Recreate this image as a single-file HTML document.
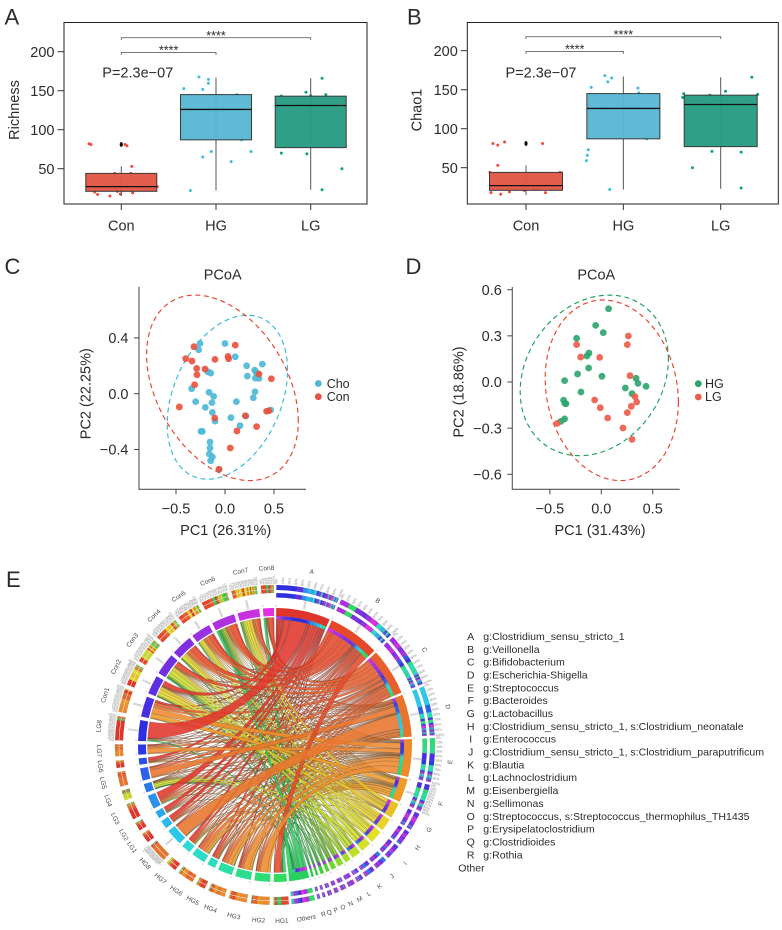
<!DOCTYPE html>
<html lang="en">
<head>
<meta charset="utf-8">
<title>Microbiome diversity figure</title>
<style>
html,body{margin:0;padding:0;background:#fff;}
svg{display:block;font-family:"Liberation Sans",Arial,sans-serif;}
text{fill:#2b2b2b;}
</style>
</head>
<body>
<svg id="fig" width="782" height="930" viewBox="0 0 782 930" xmlns="http://www.w3.org/2000/svg">
  <rect width="782" height="930" fill="#fff"/>

  <g id="panelA"></g>
  <g id="panelB"></g>
  <g id="panelC"></g>
  <g id="panelD"></g>
  <g id="panelE"></g>

  <g font-size="22" style="font-weight:400">
    <text x="4.5" y="24.7" fill="#111">A</text>
    <text x="407" y="24.7" fill="#111">B</text>
    <text x="4.5" y="274" fill="#111">C</text>
    <text x="405.5" y="274" fill="#111">D</text>
    <text x="6" y="587" fill="#111">E</text>
  </g>

  <g font-size="14.5">
    <text transform="translate(19,110) rotate(-90)" text-anchor="middle">Richness</text>
    <text transform="translate(421.7,110) rotate(-90)" text-anchor="middle">Chao1</text>
    <text x="102.3" y="77.7">P=2.3e−07</text>
    <text x="505.5" y="77.7">P=2.3e−07</text>
  </g>

  <g font-size="14.5">
    <text x="222.7" y="279.3" text-anchor="middle">PCoA</text>
    <text x="596.3" y="279.3" text-anchor="middle">PCoA</text>
    <text x="225.7" y="535" text-anchor="middle">PC1 (26.31%)</text>
    <text x="600" y="535" text-anchor="middle">PC1 (31.43%)</text>
    <text transform="translate(90.7,393.7) rotate(-90)" text-anchor="middle">PC2 (22.25%)</text>
    <text transform="translate(463.7,392) rotate(-90)" text-anchor="middle">PC2 (18.86%)</text>
  </g>

  <g font-size="12.5">
    <circle cx="318.3" cy="383.5" r="3.4" fill="#4db9d8"/>
    <text x="326.7" y="388">Cho</text>
    <circle cx="318.3" cy="396.7" r="3.4" fill="#e9533f"/>
    <text x="326.7" y="401">Con</text>
  </g>
  <g font-size="12.5">
    <circle cx="698.3" cy="383.7" r="3.4" fill="#2fa56e"/>
    <text x="705" y="388">HG</text>
    <circle cx="698.3" cy="397" r="3.4" fill="#ec5e4a"/>
    <text x="705" y="401">LG</text>
  </g>

  <g font-size="10.55" id="taxaLegend">
    <g text-anchor="middle">
      <text x="470.7" y="640">A</text>
      <text x="470.7" y="652.8">B</text>
      <text x="470.7" y="665.7">C</text>
      <text x="470.7" y="678.5">D</text>
      <text x="470.7" y="691.4">E</text>
      <text x="470.7" y="704.2">F</text>
      <text x="470.7" y="717">G</text>
      <text x="470.7" y="729.9">H</text>
      <text x="470.7" y="742.7">I</text>
      <text x="470.7" y="755.6">J</text>
      <text x="470.7" y="768.4">K</text>
      <text x="470.7" y="781.2">L</text>
      <text x="470.7" y="794.1">M</text>
      <text x="470.7" y="806.9">N</text>
      <text x="470.7" y="819.8">O</text>
      <text x="470.7" y="832.6">P</text>
      <text x="470.7" y="845.4">Q</text>
      <text x="470.7" y="858.3">R</text>
    </g>
    <g>
      <text x="483.3" y="640">g:Clostridium_sensu_stricto_1</text>
      <text x="483.3" y="652.8">g:Veillonella</text>
      <text x="483.3" y="665.7">g:Bifidobacterium</text>
      <text x="483.3" y="678.5">g:Escherichia-Shigella</text>
      <text x="483.3" y="691.4">g:Streptococcus</text>
      <text x="483.3" y="704.2">g:Bacteroides</text>
      <text x="483.3" y="717">g:Lactobacillus</text>
      <text x="483.3" y="729.9">g:Clostridium_sensu_stricto_1, s:Clostridium_neonatale</text>
      <text x="483.3" y="742.7">g:Enterococcus</text>
      <text x="483.3" y="755.6">g:Clostridium_sensu_stricto_1, s:Clostridium_paraputrificum</text>
      <text x="483.3" y="768.4">g:Blautia</text>
      <text x="483.3" y="781.2">g:Lachnoclostridium</text>
      <text x="483.3" y="794.1">g:Eisenbergiella</text>
      <text x="483.3" y="806.9">g:Sellimonas</text>
      <text x="483.3" y="819.8">g:Streptococcus, s:Streptococcus_thermophilus_TH1435</text>
      <text x="483.3" y="832.6">g:Erysipelatoclostridium</text>
      <text x="483.3" y="845.4">g:Clostridioides</text>
      <text x="483.3" y="858.3">g:Rothia</text>
      <text x="458.3" y="871.5">Other</text>
    </g>
  </g>
</svg>

<script>
/* ---------- Box plot data ---------- */
const boxCategories = ['Con', 'HG', 'LG'];
const boxTicks = [50, 100, 150, 200];
const richnessWhiskerLow = [15, 22, 23];
const richnessQ1 = [21, 87, 77];
const richnessMedian = [27, 126, 131];
const richnessQ3 = [44, 145, 143];
const richnessWhiskerHigh = [53, 167, 166];
const richnessOutliers = [81, null, null];
const chaoWhiskerLow = [15, 22, 23];
const chaoQ1 = [21, 87, 77];
const chaoMedian = [27, 126, 131];
const chaoQ3 = [44, 145, 143];
const chaoWhiskerHigh = [53, 167, 166];
const chaoOutliers = [81, null, null];
/* [jitter in category units, value] */
const richnessConPoints = [[-.34,82],[-.32,81],[.04,81],[.06,79.5],[.11,53],[-.07,44],[.10,44],[-.23,27],[.38,27],[-.28,20],[-.25,17],[-.04,21],[-.01,17.5],[-.12,15],[.12,19],[.34,23]];
const richnessHgPoints = [[-.34,152.6],[-.18,167.5],[-.08,164.5],[-.08,159.5],[-.14,151.7],[.22,145],[-.26,127],[.27,87],[-.05,72],[-.14,65],[.37,72],[.16,59],[-.27,22]];
const richnessLgPoints = [[.12,166],[-.05,148],[.16,145],[0,143.6],[-.31,143],[-.25,131],[-.12,132],[-.31,70],[-.04,69],[.33,50],[.12,23]];
const chaoConPoints = [[-.34,81],[-.29,79],[-.22,83],[.17,81],[-.29,53],[-.37,44],[.35,44],[-.03,26],[.2,27],[-.27,27],[-.17,19],[-.02,21],[.08,22],[.12,22],[-.36,18],[-.26,16],[.2,18]];
const chaoHgPoints = [[-.19,168],[-.12,165],[-.16,160],[-.33,153],[.15,152],[.16,146],[-.17,126],[.09,127],[.24,87],[-.36,73],[-.37,66],[-.38,59],[-.14,22]];
const chaoLgPoints = [[.32,166],[.05,148],[-.38,145],[-.39,140],[-.11,143],[.38,144],[.17,131],[.12,131],[-.09,71],[.21,70],[-.29,50],[.21,24]];
const sigFrom = [0, 0];
const sigTo = [1, 2];
const sigLevel = [199, 218];

/* ---------- PCoA data ---------- */
const pcoaTicksX = [-0.5, 0, 0.5];
const pcoaCTicksY = [-0.4, 0, 0.4];
const pcoaDTicksY = [-0.6, -0.3, 0, 0.3, 0.6];
const choPC = [[-.255,.36],[-.269,.315],[0,.36],[.105,.265],[.221,.2],[.381,.212],[.303,.169],[.316,.155],[.33,.141],[.228,.126],[.31,.112],[.347,.11],[-.177,.158],[-.146,.148],[-.34,.036],[-.163,.01],[-.116,-.019],[.306,.014],[.289,-.029],[-.299,-.057],[-.133,-.064],[.116,-.057],[-.201,-.098],[-.129,-.134],[-.102,-.196],[.061,-.172],[.214,-.16],[.153,-.229],[.466,-.117],[-.245,-.27],[-.231,-.27],[-.153,-.346],[-.153,-.389],[-.16,-.432],[-.129,-.453],[-.146,-.48],[-.061,-.542]];
const conPC = [[-.316,.337],[.105,.348],[-.401,.251],[-.337,.234],[-.102,.246],[.031,.267],[.037,.251],[-.289,.181],[-.204,.177],[-.286,.136],[.347,.141],[.473,.107],[-.31,.064],[-.466,-.095],[-.105,-.174],[.207,-.158],[.425,-.126],[.446,-.122],[.323,-.236],[.122,-.267],[.054,-.389],[-.061,-.542]];
const hgPC = [[.071,.476],[-.055,.368],[.019,.321],[-.24,.284],[-.12,.188],[-.14,.169],[-.123,.091],[-.231,.052],[.006,.037],[-.357,.009],[.338,.024],[.357,-.009],[.435,-.028],[.234,-.039],[.299,-.076],[-.198,-.065],[-.367,-.119],[-.354,-.139],[-.344,-.141],[-.357,-.24],[-.393,-.256]];
const lgPC = [[-.24,.243],[.263,.299],[.253,.243],[-.201,.162],[-.016,.16],[.279,.041],[.328,-.095],[.344,-.13],[.292,-.158],[.253,-.199],[-.065,-.117],[-.01,-.167],[.062,-.234],[.211,-.299],[.299,-.373],[-.429,-.269]];
/* ellipse: [centre x, centre y, half-extent x, half-extent y, correlation] */
const conEllipse = [-.026, .042, .774, .665, -.36];
const choEllipse = [.024, -.025, .614, .588, .33];
const hgEllipse = [-.068, .043, .721, .522, .2];
const lgEllipse = [.102, -.054, .648, .587, -.13];

/* ---------- Chord data ---------- */
const taxaNames = ['A','B','C','D','E','F','G','H','I','J','K','L','M','N','O','P','Q','R','Others'];
const sampleNames = ['HG1','HG2','HG3','HG4','HG5','HG6','HG7','HG8','LG1','LG2','LG3','LG4','LG5','LG6','LG7','LG8','Con1','Con2','Con3','Con4','Con5','Con6','Con7','Con8'];
const taxaTotals = [23,22,20,18,16,10,6.5,5.5,5.5,4.5,4,2.5,2.5,2,1.5,1.5,1,1,8.5];
const sampleTotals = [5.5,6.7,6.7,6.2,3.5,6,4,7,3.6,3.1,5.9,3.7,5.3,2.7,4.3,8.8,8.7,8,9.2,9,8.3,9.9,9.3,4.7];
/* rows: taxa; columns: samples */
const abundanceA = [2,1,3,1,4,1,5,2,8,7,10,1,2,5,1,45,4,14,4,3,5,4,3,3];
const abundanceB = [16,1,2,1,5,1,4,1,4,3,2,1,1,2,1,1,1,2,12,14,10,18,6,10];
const abundanceC = [2,5,3,4,3,5,1,3,1,1,1,1,6,1,2,1,6,1,3,8,10,8,9,2];
const abundanceD = [1,4,4,6,2,7,1,45,1,1,2,2,18,1,4,1,5,1,1,2,2,3,4,1];
const abundanceE = [1,18,14,9,1,4,1,1,1,1,1,1,2,1,10,2,14,1,1,1,2,1,2,1];
const abundanceF = [1,6,5,6,1,4,1,1,1,0,1,1,1,0,2,1,10,2,1,1,1,1,2,1];
const abundanceG = [0,0,0,1,0,0,0,0,0,0,0,1,0,1,0,0,1,8,3,4,2,1,8,0];
const abundanceH = [0,0,1,0,0,0,0,0,0,0,0,3,0,0,0,0,1,9,6,4,6,0,8,0];
const abundanceI = [0,0,0,0,0,0,1,0,0,0,0,4,0,0,0,0,0,8,4,6,4,2,6,0];
const abundanceJ = [0,0,0,0,0,1,0,0,0,0,0,9,0,0,0,0,0,3,9,1,2,2,4,0];
const abundanceK = [0,0,1,0,0,0,0,0,0,0,0,8,0,0,0,0,0,1,9,1,0,3,3,0];
const abundanceL = [0,0,0,0,0,0,1,0,0,0,0,2,0,0,0,0,0,0,3,1,0,1,2,0];
const abundanceM = [0,0,0,0,0,0,0,0,0,0,0,1,0,0,0,0,0,1,2,0,1,3,2,0];
const abundanceN = [0,0,0,0,1,0,0,0,0,0,0,0,0,0,0,0,0,1,1,0,0,2,1,1];
const abundanceO = [0,0,0,0,0,0,0,0,0,0,0,1,0,0,0,0,0,0,1,0,0,2,0,1];
const abundanceP = [1,0,0,0,0,0,0,0,0,0,0,0,0,0,0,0,0,1,0,1,0,2,0,0];
const abundanceQ = [0,0,0,0,0,0,0,0,0,0,1,0,0,0,0,0,0,0,0,1,0,2,0,0];
const abundanceR = [0,0,0,0,0,0,0,1,0,0,0,0,0,0,0,0,0,0,1,0,0,2,0,0];
const abundanceOthers = [8,1,0,1,0,1,0,0,0,1,0,2,0,0,0,3,0,0,3,0,2,6,2,4];
const abundance = [abundanceA,abundanceB,abundanceC,abundanceD,abundanceE,abundanceF,abundanceG,abundanceH,abundanceI,abundanceJ,abundanceK,abundanceL,abundanceM,abundanceN,abundanceO,abundanceP,abundanceQ,abundanceR,abundanceOthers];

/* ---------- Palettes ---------- */
const taxaPalette = ['#e0352b','#e5492a','#e85f2d','#e8742c','#ee8a2e','#f09a26','#e8c12a','#e8d42a','#e2e028','#d5e02a','#bfe02a','#a8dc2a','#8cd92a','#6fd42c','#55d030','#40cd38','#33cc44','#2acc50','#28d060'];
const samplePalette = ['#2fdc60','#2ddc74','#2bdd8c','#2bdfa4','#2bdcb8','#2cdcc8','#2cd8d8','#2cc8e8','#2cb8ea','#2ca8ea','#2a90ea','#2a78ea','#2a60ea','#2a50ea','#2a38e8','#2f2fe0','#4a2fe0','#5f30e0','#7030e0','#8030e0','#9a30e0','#b030e0','#c830e0','#e030e0'];

/* ---------- Helpers ---------- */
const NS = 'http://www.w3.org/2000/svg';
function make(parent, tag, attrs, txt) {
  const el = document.createElementNS(NS, tag);
  for (const k in attrs) el.setAttribute(k, attrs[k]);
  if (txt !== undefined) el.textContent = txt;
  parent.appendChild(el);
  return el;
}
function linear(d0, d1, r0, r1) {
  return v => r0 + (v - d0) * (r1 - r0) / (d1 - d0);
}
function fmt(v) {
  const s = Math.abs(v).toFixed(1);
  return (v < 0 ? '\u2212' : '') + s;
}

/* ---------- Box panels ---------- */
function drawBoxPanel(root, frame, xPos, y, series, low, q1, med, q3, high, outliers, colors, ptColors) {
  const boxHalf = 0.375 * (xPos(1) - xPos(0));
  const step = xPos(1) - xPos(0);
  const rect = make(root, 'rect', {x: frame.x0, y: frame.y0, width: frame.x1 - frame.x0, height: frame.y1 - frame.y0, fill: 'none', stroke: '#222', 'stroke-width': 1});
  
  
  boxTicks.forEach(t => {
    const tick = make(root, 'line', {x1: frame.x0 - 6.5, x2: frame.x0, y1: y(t), y2: y(t), stroke: '#333', 'stroke-width': 1});
    
    
    const lab = make(root, 'text', {x: frame.x0 - 9.5, y: y(t) + 5.2, 'text-anchor': 'end', 'font-size': 14.5}, String(t));
    
    
  });
  boxCategories.forEach((c, i) => {
    const cx = xPos(i);
    const tick = make(root, 'line', {x1: cx, x2: cx, y1: frame.y1, y2: frame.y1 + 6, stroke: '#333', 'stroke-width': 1});
    
    
    const lab = make(root, 'text', {x: cx, y: 230.7, 'text-anchor': 'middle', 'font-size': 14.5}, c);
    
    

    series[i].forEach(p => {
      const dot = make(root, 'circle', {cx: cx + p[0] * step, cy: y(p[1]), r: 1.5, fill: ptColors[i]});
      
      
    });
    const whisker = make(root, 'line', {x1: cx, x2: cx, y1: y(low[i]), y2: y(high[i]), stroke: '#555', 'stroke-width': 1});
    
    
    const box = make(root, 'rect', {x: cx - boxHalf, y: y(q3[i]), width: boxHalf * 2, height: y(q1[i]) - y(q3[i]), fill: colors[i], 'fill-opacity': 0.96, stroke: '#3a3a3a', 'stroke-width': 1});
    
    
    const median = make(root, 'line', {x1: cx - boxHalf, x2: cx + boxHalf, y1: y(med[i]), y2: y(med[i]), stroke: '#111', 'stroke-width': 1.3});
    
    
    if (outliers[i] !== null) {
      const out = make(root, 'ellipse', {cx: cx, cy: y(outliers[i]), rx: 1.6, ry: 2.5, fill: '#111'});
      
      
    }
  });
  sigLevel.forEach((lvl, i) => {
    const xa = xPos(sigFrom[i]), xb = xPos(sigTo[i]), yy = y(lvl);
    const br = make(root, 'path', {d: `M${xa} ${yy + 2.4}V${yy}H${xb}V${yy + 2.4}`, fill: 'none', stroke: '#666', 'stroke-width': 0.9});
    
    
    const st = make(root, 'text', {x: (xa + xb) / 2, y: yy + 2.2, 'text-anchor': 'middle', 'font-size': 12.5, fill: '#444'}, '****');
    
    
  });
}
const boxFill = ['#e25646', '#58b7d3', '#279c82'];
const dotFill = ['#ee4b3c', '#3fbcdc', '#0fa088'];

const xA = linear(0, 2, 121.3, 310.7);
const yA = linear(50, 200, 168.7, 51.7);
drawBoxPanel(document.getElementById('panelA'), {x0: 64, x1: 367, y0: 22.5, y1: 204}, xA, yA,
  [richnessConPoints, richnessHgPoints, richnessLgPoints],
  richnessWhiskerLow, richnessQ1, richnessMedian, richnessQ3, richnessWhiskerHigh, richnessOutliers, boxFill, dotFill);

const xB = linear(0, 2, 526, 720.7);
const yB = linear(50, 200, 167.7, 50.7);
drawBoxPanel(document.getElementById('panelB'), {x0: 467.3, x1: 778.3, y0: 22.5, y1: 204}, xB, yB,
  [chaoConPoints, chaoHgPoints, chaoLgPoints],
  chaoWhiskerLow, chaoQ1, chaoMedian, chaoQ3, chaoWhiskerHigh, chaoOutliers, boxFill, dotFill);

/* ---------- PCoA panels ---------- */
function ellipsePath(e, x, y) {
  const rho = Math.acos(e[4]);
  let d = '';
  for (let t = 0; t <= 360; t += 3) {
    const a = t * Math.PI / 180;
    const px = x(e[0] + e[2] * Math.cos(a));
    const py = y(e[1] + e[3] * Math.cos(a - rho));
    d += (t === 0 ? 'M' : 'L') + px.toFixed(1) + ' ' + py.toFixed(1);
  }
  return d + 'Z';
}
function drawPcoa(root, ax, x, y, yTicks, groups) {
  const axis = make(root, 'path', {d: `M${ax.x0} ${ax.y0}V${ax.y1}H${ax.x1}`, fill: 'none', stroke: '#555', 'stroke-width': 1.1});
  
  
  pcoaTicksX.forEach(t => {
    const tick = make(root, 'line', {x1: x(t), x2: x(t), y1: ax.y1, y2: ax.y1 + 5, stroke: '#444', 'stroke-width': 1});
    
    
    const lab = make(root, 'text', {x: x(t), y: 513.3, 'text-anchor': 'middle', 'font-size': 14.5}, fmt(t));
    
    
  });
  yTicks.forEach(t => {
    const tick = make(root, 'line', {x1: ax.x0 - 5, x2: ax.x0, y1: y(t), y2: y(t), stroke: '#444', 'stroke-width': 1});
    
    
    const lab = make(root, 'text', {x: ax.x0 - 10.5, y: y(t) + 5.2, 'text-anchor': 'end', 'font-size': 14.5}, fmt(t));
    
    
  });
  groups.forEach(g => {
    const el = make(root, 'path', {d: ellipsePath(g.ellipse, x, y), fill: 'none', stroke: g.line, 'stroke-width': 1.15, 'stroke-dasharray': '5 3.6'});
    
    
  });
  groups.forEach(g => {
    g.points.forEach(p => {
      const dot = make(root, 'circle', {cx: x(p[0]), cy: y(p[1]), r: 3.4, fill: g.fill, 'fill-opacity': 0.92});
      
      
    });
  });
}
drawPcoa(document.getElementById('panelC'), {x0: 139, x1: 306, y0: 286.7, y1: 489.3},
  linear(0, 0.5, 225, 274), linear(0, 0.4, 393.7, 337.9), pcoaCTicksY,
  [{points: choPC, ellipse: choEllipse, fill: '#4db9d8', line: '#36b8d8'},
   {points: conPC, ellipse: conEllipse, fill: '#e9533f', line: '#e8412d'}]);
drawPcoa(document.getElementById('panelD'), {x0: 512.3, x1: 679.7, y0: 287, y1: 489.3},
  linear(0, 0.5, 601.3, 652.7), linear(0, 0.6, 382, 289.7), pcoaDTicksY,
  [{points: hgPC, ellipse: hgEllipse, fill: '#2fa56e', line: '#1f9e5e'},
   {points: lgPC, ellipse: lgEllipse, fill: '#ec5e4a', line: '#e8412d'}]);

/* ---------- Chord diagram ---------- */
const chord = document.getElementById('panelE');
const CX = 275, CY = 745;
function polar(r, deg) {
  const a = deg * Math.PI / 180;
  return [CX + r * Math.sin(a), CY - r * Math.cos(a)];
}
function pt(p) { return p[0].toFixed(2) + ' ' + p[1].toFixed(2); }
function wedge(r0, r1, a0, a1) {
  const large = a1 - a0 > 180 ? 1 : 0;
  return `M${pt(polar(r1, a0))}A${r1} ${r1} 0 ${large} 1 ${pt(polar(r1, a1))}L${pt(polar(r0, a1))}A${r0} ${r0} 0 ${large} 0 ${pt(polar(r0, a0))}Z`;
}
const taxaGap = 1.0, sampleGap = 1.5;
let cursor = 0.5;
const taxaSpan = taxaTotals.map(s => { const sp = [cursor, cursor + s]; cursor += s + taxaGap; return sp; });
const sampleSpan = sampleTotals.map(s => { const sp = [cursor, cursor + s]; cursor += s + sampleGap; return sp; });

/* slice a sector among its values in the given order */
function cutSector(values, span, order) {
  const sum = values.reduce((a, b) => a + b, 0) || 1;
  const w = span[1] - span[0];
  const out = [];
  let a = span[0];
  order.forEach(k => {
    const d = values[k] / sum * w;
    out[k] = [a, a + d];
    a += d;
  });
  return out;
}
function byIndexDesc(values) { return values.map((v, k) => k).reverse(); }
function bySizeDesc(values) { return values.map((v, k) => k).sort((p, q) => values[q] - values[p]); }

const taxaRibbonCuts = abundance.map((row, i) => cutSector(row, taxaSpan[i], byIndexDesc(row)));
const taxaRingCuts = abundance.map((row, i) => cutSector(row, taxaSpan[i], bySizeDesc(row)));
const sampleColumns = sampleNames.map((n, j) => abundance.map(r => r[j]));
const sampleRibbonCuts = sampleColumns.map((col, j) => cutSector(col, sampleSpan[j], byIndexDesc(col)));
const sampleRingCuts = sampleColumns.map((col, j) => cutSector(col, sampleSpan[j], bySizeDesc(col)));

/* ribbons: thin ones underneath, thick ones on top */
const ribbonList = [];
abundance.forEach((row, i) => row.forEach((v, j) => { if (v > 0) ribbonList.push([i, j, v]); }));
function ribbonWidth(r) { const c = taxaRibbonCuts[r[0]][r[1]]; return c[1] - c[0]; }
ribbonList.sort((p, q) => ribbonWidth(p) - ribbonWidth(q));
const ribbonGroup = make(chord, 'g', {});


const rT = 125.5, rS = 127.5, bend = 0.52;
function ctrl(r, deg) { return polar(r * bend, deg); }
ribbonList.forEach(([i, j]) => {
  const [a0, a1] = taxaRibbonCuts[i][j];
  const [b0, b1] = sampleRibbonCuts[j][i];
  const d = `M${pt(polar(rT, a0))}A${rT} ${rT} 0 0 1 ${pt(polar(rT, a1))}` +
    `C${pt(ctrl(rT, a1))} ${pt(ctrl(rS, b0))} ${pt(polar(rS, b0))}` +
    `A${rS} ${rS} 0 0 1 ${pt(polar(rS, b1))}` +
    `C${pt(ctrl(rS, b1))} ${pt(ctrl(rT, a0))} ${pt(polar(rT, a0))}Z`;
  const rib = make(ribbonGroup, 'path', {d: d, fill: taxaPalette[i], 'fill-opacity': 0.88, stroke: '#2a2a2a', 'stroke-opacity': 0.45, 'stroke-width': 0.35});
  
  
});

function radialText(parent, r, deg, str, size, fill) {
  const p = polar(r, deg);
  const right = deg % 360 < 180;
  const rot = right ? deg - 90 : deg + 90;
  return make(parent, 'text', {
    x: p[0].toFixed(1), y: p[1].toFixed(1), transform: `rotate(${rot.toFixed(1)} ${p[0].toFixed(1)} ${p[1].toFixed(1)})`,
    'text-anchor': right ? 'start' : 'end', 'dominant-baseline': 'central', 'font-size': size, style: 'fill:' + fill
  }, str);
}
function sectorLabel(name, mid) {
  const p = polar(176.5, mid);
  const norm = mid % 360;
  const rot = (norm > 90 && norm < 270) ? norm - 180 : norm;
  const lab = make(chord, 'text', {
    x: p[0].toFixed(1), y: p[1].toFixed(1), transform: `rotate(${rot.toFixed(1)} ${p[0].toFixed(1)} ${p[1].toFixed(1)})`,
    'text-anchor': 'middle', 'dominant-baseline': 'central', 'font-size': 6.5, style: 'fill:#4a4a4a'
  }, name);
  
  
}
function percentLabels(span, step) {
  for (let pct = 0; pct <= 100; pct += step) {
    const t = radialText(chord, 161, span[0] + (span[1] - span[0]) * pct / 100, pct + '%', 3.4, '#8a8a8a');
    
    
  }
}
function scaleLabels(span, labelled) {
  const zero = radialText(chord, 138.5, span[0], '0', 2.6, '#999');
  
  
  if (labelled) {
    const t = radialText(chord, 138.3, (span[0] + span[1]) / 2, '100000', 2.9, '#8a8a8a');
    
    
  }
}
const ringGroup = make(chord, 'g', {});



taxaNames.forEach((n, i) => {
  const sp = taxaSpan[i];
  const sec = make(ringGroup, 'path', {d: wedge(129, 137, sp[0], sp[1]), fill: taxaPalette[i]});
  
  
  taxaRibbonCuts[i].forEach((c, j) => {
    if (!c || c[1] - c[0] <= 0) return;
    const seg = make(ringGroup, 'path', {d: wedge(125.5, 129, c[0], c[1]), fill: samplePalette[j], stroke: '#222', 'stroke-opacity': 0.35, 'stroke-width': 0.15});
    
    
  });
  taxaRingCuts[i].forEach((c, j) => {
    if (!c || c[1] - c[0] <= 0) return;
    [[147.5, 152], [155, 160]].forEach(b => {
      const seg = make(ringGroup, 'path', {d: wedge(b[0], b[1], c[0], c[1]), fill: samplePalette[j], stroke: '#222', 'stroke-opacity': 0.35, 'stroke-width': 0.15});
      
      
    });
  });
  sectorLabel(n, (sp[0] + sp[1]) / 2);
  if (taxaTotals[i] >= 7 && n !== 'Others') percentLabels(sp, 10);
  scaleLabels(sp, taxaTotals[i] >= 7 && n !== 'Others');
});
sampleNames.forEach((n, j) => {
  const sp = sampleSpan[j];
  const sec = make(ringGroup, 'path', {d: wedge(129, 137, sp[0], sp[1]), fill: samplePalette[j]});
  
  
  sampleRingCuts[j].forEach((c, i) => {
    if (!c || c[1] - c[0] <= 0) return;
    [[152, 155.7], [156.3, 160]].forEach(b => {
      const seg = make(ringGroup, 'path', {d: wedge(b[0], b[1], c[0], c[1]), fill: taxaPalette[i], stroke: '#222', 'stroke-opacity': 0.35, 'stroke-width': 0.15});
      
      
    });
  });
  sectorLabel(n, (sp[0] + sp[1]) / 2);
  if (sampleTotals[j] >= 7) percentLabels(sp, 10);
  else if (n === 'Con8') percentLabels(sp, 20);
  scaleLabels(sp, sampleTotals[j] >= 7);
});
</script>
</body>
</html>
